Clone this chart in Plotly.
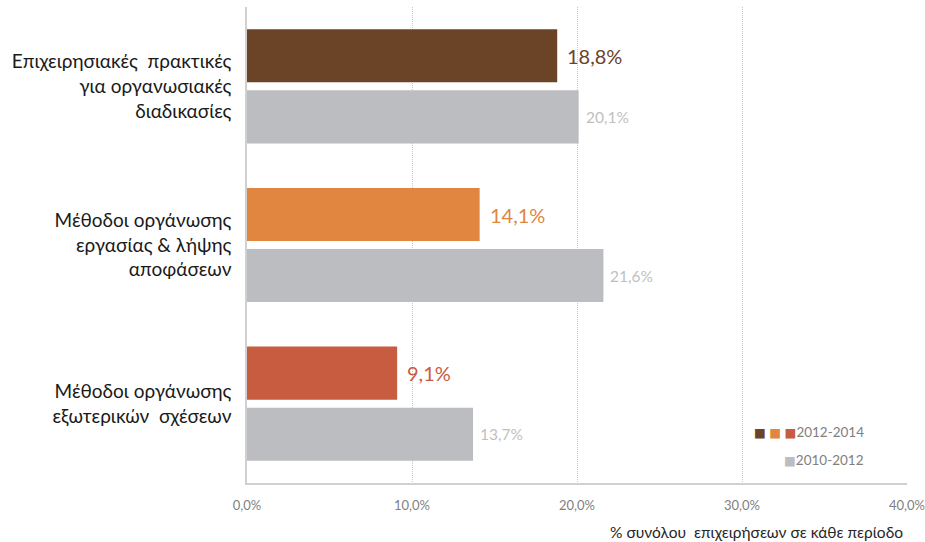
import plotly.graph_objects as go

# Categories (top to bottom) and values (% of enterprises in each period)
categories = [
    "Επιχειρησιακές  πρακτικές<br>για οργανωσιακές<br>διαδικασίες",
    "Μέθοδοι οργάνωσης<br>εργασίας & λήψης<br>αποφάσεων",
    "Μέθοδοι οργάνωσης<br>εξωτερικών  σχέσεων",
]
values_2012_2014 = [18.8, 14.1, 9.1]
values_2010_2012 = [20.1, 21.6, 13.7]
period_labels = ["2012-2014", "2010-2012"]
tick_values = [0, 10, 20, 30, 40]

colors_recent = ["#6B4428", "#E08641", "#C85C40"]
color_previous = "#BCBDC0"
label_previous = "#BFBFBF"
font_family = "Lato, 'Open Sans', sans-serif"
square_font = "font-family:'DejaVu Sans';font-size:12.5px"


def fmt(v):
    return f"{v:.1f}".replace(".", ",") + "%"


fig = go.Figure()
fig.add_trace(go.Bar(
    y=categories, x=values_2012_2014, orientation="h",
    marker=dict(color=colors_recent, line=dict(width=0)),
    name=period_labels[0], showlegend=False, hoverinfo="skip",
))
fig.add_trace(go.Bar(
    y=categories, x=values_2010_2012, orientation="h",
    marker=dict(color=color_previous, line=dict(width=0)),
    name=period_labels[1], showlegend=False, hoverinfo="skip",
))

annotations = []
for cat, v, c in zip(categories, values_2012_2014, colors_recent):
    annotations.append(dict(
        x=v, y=cat, xref="x", yref="y", text=fmt(v), showarrow=False,
        xanchor="left", yanchor="middle", xshift=8, yshift=30.5,
        font=dict(size=20, color=c, family=font_family),
    ))
for cat, v in zip(categories, values_2010_2012):
    annotations.append(dict(
        x=v, y=cat, xref="x", yref="y", text=fmt(v), showarrow=False,
        xanchor="left", yanchor="middle", xshift=5, yshift=-30.5,
        font=dict(size=15.5, color=label_previous, family=font_family),
    ))

# Legend drawn as text with coloured squares
sq = "".join(f"<span style=\"color:{c};{square_font}\">■</span>" + (" " if i < 2 else "")
             for i, c in enumerate(colors_recent))
annotations.append(dict(
    x=0.938, y=0.107, xref="paper", yref="paper", showarrow=False,
    xanchor="right", yanchor="middle", align="right",
    text=sq + period_labels[0],
    font=dict(size=13.5, color="#808080", family=font_family),
))
annotations.append(dict(
    x=0.938, y=0.048, xref="paper", yref="paper", showarrow=False,
    xanchor="right", yanchor="middle", align="right",
    text=f"<span style=\"color:{color_previous};{square_font}\">■</span>" + period_labels[1],
    font=dict(size=13.5, color="#808080", family=font_family),
))

# Axis title
annotations.append(dict(
    x=(905 - 247) / 660, y=-(532 - 483) / 476, xref="paper", yref="paper",
    showarrow=False, xanchor="right", yanchor="middle",
    text="% συνόλου  επιχειρήσεων σε κάθε περίοδο",
    font=dict(size=15.5, color="#262626", family=font_family),
))

fig.update_layout(
    width=925, height=542,
    margin=dict(l=247, r=18, t=7, b=59),
    paper_bgcolor="white", plot_bgcolor="white",
    barmode="group", bargap=0.23, bargroupgap=0.13,
    separators=",.",
    font=dict(family=font_family),
    annotations=annotations,
    xaxis=dict(
        range=[0, 40], tickvals=tick_values,
        ticktext=[fmt(t) for t in tick_values],
        showgrid=True, gridcolor="#C8C8C8", griddash="1px,1px", gridwidth=1,
        showline=True, linecolor="#D0D0D0", linewidth=1.5,
        zeroline=False, ticks="", ticklabelstandoff=10, automargin=False,
        tickfont=dict(size=13, color="#7F7F7F", family=font_family),
        fixedrange=True,
    ),
    yaxis=dict(
        autorange="reversed", showgrid=False, zeroline=False,
        showline=True, linecolor="#D0D0D0", linewidth=1.5,
        ticks="", ticklabelstandoff=10, automargin=False,
        tickfont=dict(size=19, color="#1A1A1A", family=font_family),
        fixedrange=True,
    ),
)

fig.write_html("out.html")
